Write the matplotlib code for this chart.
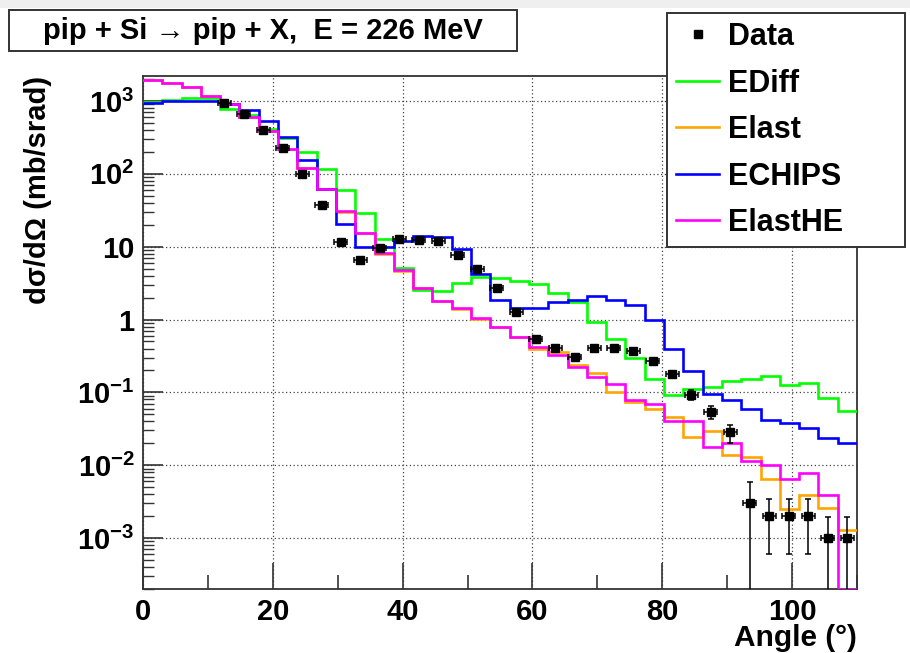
import numpy as np
import matplotlib
matplotlib.use("Agg")
import matplotlib.pyplot as plt
from matplotlib.lines import Line2D
from matplotlib.patches import Rectangle
from matplotlib.ticker import FixedLocator, LogLocator, MultipleLocator, NullFormatter

plt.rcParams["font.family"] = ["Liberation Sans", "DejaVu Sans"]
plt.rcParams["font.weight"] = "bold"
plt.rcParams["mathtext.fontset"] = "custom"
plt.rcParams["mathtext.rm"] = "Liberation Sans:bold"
plt.rcParams["mathtext.it"] = "Liberation Sans:bold"
plt.rcParams["mathtext.bf"] = "Liberation Sans:bold"

# 37 angular bins between 0 and 110 degrees
edges = np.linspace(0, 110, 38)

ediff = [969, 1043, 1100, 1100, 783, 633, 415, 311, 201, 115, 59.7, 29.3, 12.9,
         5.15, 2.55, 2.47, 3.15, 3.84, 3.75, 3.40, 3.12, 2.28, 1.72, 0.914, 0.541,
         0.294, 0.155, 0.093, 0.111, 0.117, 0.142, 0.152, 0.166, 0.127, 0.133,
         0.0836, 0.0561]
elast = [1930, 1774, 1563, 1172, 899, 601, 381, 219, 120, 61, 30.1, 15.6, 7.9,
         4.6, 2.69, 1.80, 1.38, 1.02, 0.78, 0.57, 0.40, 0.354, 0.235, 0.185, 0.100,
         0.074, 0.0598, 0.046, 0.0247, 0.0299, 0.014, 0.0129, 0.0065, 0.00247,
         0.00396, 0.0026, 0.00131]
echips = [940, 988, 988, 988, 900, 743, 530, 318, 156, 61, 20.2, 9.9, 9.9,
          12.0, 14.2, 13.4, 9.2, 4.15, 1.85, 1.44, 1.44, 1.72, 1.87, 2.09, 1.87,
          1.60, 0.98, 0.40, 0.194, 0.095, 0.0785, 0.0591, 0.0423, 0.038, 0.0325,
          0.0237, 0.020]
elasthe = [1930, 1774, 1563, 1172, 899, 601, 381, 219, 120, 61, 31.0, 15.6, 8.3,
           4.8, 2.69, 1.80, 1.42, 1.06, 0.78, 0.57, 0.417, 0.321, 0.222, 0.162,
           0.131, 0.0794, 0.0686, 0.040, 0.040, 0.0177, 0.020, 0.01135, 0.0101,
           0.00643, 0.00776, 0.00396, 0.0]

# measured points
angle = [12.5, 15.5, 18.5, 21.5, 24.5, 27.5, 30.5, 33.5, 36.5, 39.5, 42.5, 45.5,
         48.5, 51.5, 54.5, 57.5, 60.5, 63.5, 66.5, 69.5, 72.5, 75.5, 78.5, 81.5,
         84.5, 87.5, 90.5, 93.5, 96.5, 99.5, 102.5, 105.5, 108.5]
dsig = [950, 668, 393, 226, 100, 36.8, 11.6, 6.5, 9.5, 12.6, 12.2, 11.8, 7.7, 4.9,
        2.70, 1.28, 0.536, 0.404, 0.31, 0.41, 0.41, 0.367, 0.272, 0.178, 0.093,
        0.054, 0.0283, 0.0030, 0.0020, 0.0020, 0.0020, 0.0010, 0.0010]
dsig_err = [30, 20, 12, 7, 3, 1.1, 0.4, 0.2, 0.3, 0.4, 0.4, 0.4, 0.25, 0.15, 0.09,
            0.05, 0.025, 0.02, 0.018, 0.02, 0.02, 0.02, 0.02, 0.016, 0.014, 0.011,
            0.0078, 0.0029, 0.0014, 0.0014, 0.0014, 0.00095, 0.00095]
angle_halfwidth = 1.0

models = [("EDiff", ediff, "#00ff00"),
          ("Elast", elast, "#ffa500"),
          ("ECHIPS", echips, "#0000ff"),
          ("ElastHE", elasthe, "#ff00ff")]

y_lo, y_hi = 2e-4, 2.2e3

fig = plt.figure(figsize=(9.1, 6.53), dpi=100)
fig.patch.set_facecolor("white")
fig.add_artist(Rectangle((0, 1 - 7.5 / 653), 1, 7.5 / 653, transform=fig.transFigure,
                         facecolor="#efefef", edgecolor="none"))

ax = fig.add_axes([143 / 910, 1 - 589 / 653, 714 / 910, 513 / 653])
ax.set_yscale("log")
ax.set_xlim(0, 110)
ax.set_ylim(y_lo, y_hi)

handles = [Line2D([], [], ls="none", marker="s", ms=6, color="black")]
for name, vals, col in models:
    # empty bins sit on the bottom of the frame
    v = np.maximum(np.asarray(vals, dtype=float), y_lo)
    ax.stairs(v, edges, baseline=None, color=col, lw=1.9, zorder=3)
    handles.append(Line2D([], [], color=col, lw=1.9))

ax.errorbar(angle, dsig, xerr=angle_halfwidth, yerr=dsig_err, fmt="s", ms=6.3,
            color="black", ecolor="black", elinewidth=1.1, capsize=2,
            capthick=1.1, zorder=5)

# axes cosmetics
ax.grid(True, which="major", ls=(0, (1, 2)), color="#444444", lw=0.9)
ax.xaxis.set_major_locator(MultipleLocator(20))
ax.xaxis.set_minor_locator(MultipleLocator(10))
ax.yaxis.set_major_locator(FixedLocator([1e-3, 1e-2, 1e-1, 1, 10, 100, 1e3]))
ax.set_yticklabels([r"$10^{-3}$", r"$10^{-2}$", r"$10^{-1}$", "1", "10",
                    r"$10^{2}$", r"$10^{3}$"])
ax.yaxis.set_minor_locator(LogLocator(base=10, subs=np.arange(2, 10)))
ax.yaxis.set_minor_formatter(NullFormatter())
ax.tick_params(axis="x", which="major", direction="in", length=19, width=1.2,
               pad=6.5, labelsize=21, color="#333333")
ax.tick_params(axis="x", which="minor", direction="in", length=10, width=1.2,
               color="#333333")
ax.tick_params(axis="y", which="major", direction="in", length=14.5, width=1.2,
               pad=6, labelsize=21, color="#333333")
ax.tick_params(axis="y", which="minor", direction="in", length=8, width=1.0,
               color="#333333")
for sp in ax.spines.values():
    sp.set_color("#333333")
    sp.set_linewidth(1.3)

ax.set_xlabel("Angle (°)", fontsize=21.5, fontweight="bold")
ax.xaxis.set_label_coords(1.0, -0.068)
ax.xaxis.label.set_horizontalalignment("right")
ax.set_ylabel("dσ/dΩ (mb/srad)", fontsize=21, fontweight="bold")
ax.yaxis.set_label_coords(-0.128, 1.0)
ax.yaxis.label.set_horizontalalignment("right")

leg = fig.legend(handles, ["Data"] + [m[0] for m in models],
                 loc="upper left", mode="expand",
                 bbox_to_anchor=(667 / 910, 0.3, 238 / 910, 1 - 13 / 653 - 0.3),
                 borderaxespad=0, fontsize=22, handlelength=1.4,
                 handletextpad=0.29, labelspacing=0.54, borderpad=0.3,
                 fancybox=False, framealpha=1, edgecolor="#333333")
leg.get_frame().set_linewidth(1.4)

# title box
fig.add_artist(Rectangle((8.6 / 910, 1 - 51 / 653), 508.4 / 910, 40.7 / 653,
                         transform=fig.transFigure, fill=False,
                         edgecolor="#333333", lw=1.4))
fig.text(263 / 910, 1 - 30.7 / 653, "pip + Si → pip + X,  E = 226 MeV",
         ha="center", va="center", fontsize=21, fontweight="bold")

fig.savefig("out.png", dpi=100)
